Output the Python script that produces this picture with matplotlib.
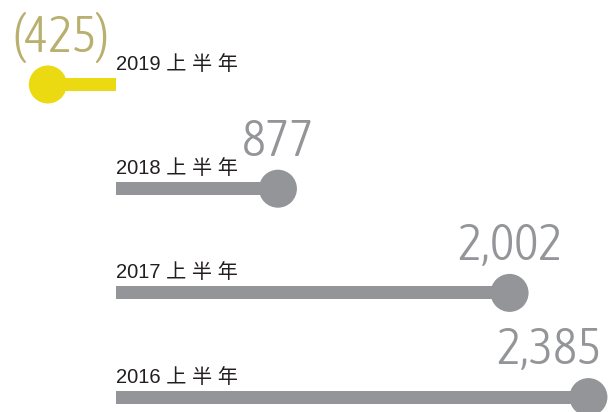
import numpy as np
import matplotlib.pyplot as plt
import matplotlib.transforms as mtransforms
from matplotlib import font_manager as fm

# data #
periods = ['2019上半年', '2018上半年', '2017上半年', '2016上半年']
values = [-425, 877, 2002, 2385]
value_labels = ['(425)', '877', '2,002', '2,385']

# style #
bar_colors = ['#EBD911', '#939598', '#939598', '#939598']
num_colors = ['#B9AF6F', '#939598', '#939598', '#939598']
label_color = '#231F20'
num_dx = [13, 0, 0, -39]   # px shift of the big numbers
dot_r = 19                 # px


# condensed sans for the big numbers, if one is installed #
def pick_num_font():
    best, best_score = None, None
    for f in fm.fontManager.ttflist:
        nm = (f.name + ' ' + f.fname).lower()
        if f.style != 'normal' or 'mono' in nm or 'serif' in nm or 'cjk' in nm:
            continue
        if 'extra' in nm or 'ultra' in nm:
            continue
        narrow = any(k in nm for k in ('condensed', 'narrow', 'cond')) or \
            f.stretch in ('condensed', 'semi-condensed')
        if not narrow:
            continue
        w = f.weight if isinstance(f.weight, int) else fm.weight_dict.get(f.weight, 400)
        score = abs(w - 330)
        if best_score is None or score < best_score:
            best, best_score = f, score
    if best is not None:
        return fm.FontProperties(fname=best.fname, size=37)
    return fm.FontProperties(family='Roboto', weight=300, size=37)


num_font = pick_num_font()

fig = plt.figure(figsize=(6.13, 4.12), dpi=100)
ax = fig.add_axes([0, 0, 1, 1])
ax.set_xlim(-565, 2412)
ax.set_ylim(3.143, -0.811)
ax.axis('off')

px_per_unit = fig.get_figwidth() * fig.dpi / (ax.get_xlim()[1] - ax.get_xlim()[0])
bar_h = 13 / (fig.get_figheight() * fig.dpi / (ax.get_ylim()[0] - ax.get_ylim()[1]))

y = np.arange(len(values))
vals = np.array(values, dtype=float)
# circle's outer edge sits on the value
centers = vals - np.sign(vals) * dot_r / px_per_unit

ax.barh(y, centers, height=bar_h, color=bar_colors, zorder=2)
ax.scatter(centers, y, s=(2 * dot_r * 72 / fig.dpi) ** 2, color=bar_colors,
           linewidths=0, zorder=3)

for i, p in enumerate(periods):
    lab = p[:4] + ' ' + ' '.join(p[4:])
    tr = mtransforms.offset_copy(ax.transData, fig, x=0, y=14.5, units='dots')
    ax.text(0, y[i], lab, transform=tr, ha='left', va='baseline', fontsize=14.5,
            color=label_color, family=['Liberation Sans', 'Noto Sans CJK SC'])

    tr2 = mtransforms.offset_copy(ax.transData, fig, x=num_dx[i], y=33, units='dots')
    ax.text(centers[i], y[i], value_labels[i], transform=tr2, ha='center',
            va='baseline', color=num_colors[i], fontproperties=num_font)

fig.savefig('out.png', dpi=100)
